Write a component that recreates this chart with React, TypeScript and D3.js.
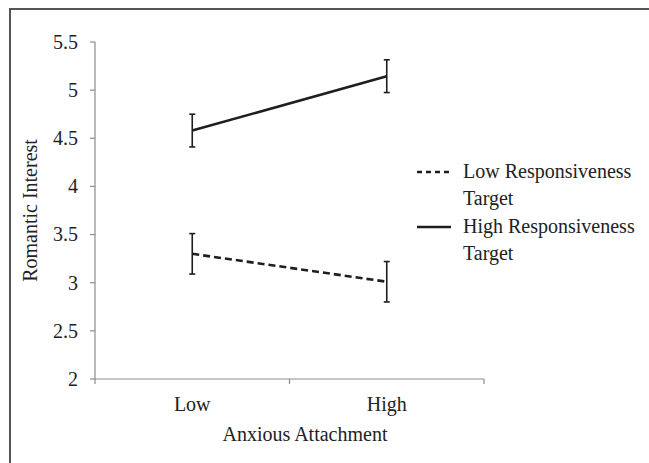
import React from "react";
import * as d3 from "d3";

const categories = ["Low", "High"];
const yTicks = [2, 2.5, 3, 3.5, 4, 4.5, 5, 5.5];
const yTickLabels = ["2", "2.5", "3", "3.5", "4", "4.5", "5", "5.5"];
const lowRespValues = [3.3, 3.01];
const lowRespErrors = [0.21, 0.21];
const highRespValues = [4.58, 5.145];
const highRespErrors = [0.17, 0.17];
const seriesNames = ["Low Responsiveness", "High Responsiveness"];
const seriesSub = ["Target", "Target"];
const xTitle = "Anxious Attachment";
const yTitle = "Romantic Interest";

const W = 649;
const H = 463;
const FONT = "Liberation Serif, Times New Roman, Times, Nimbus Roman, DejaVu Serif, serif";

export default function App() {
  const x = d3.scaleBand<string>().domain(categories).range([95, 484]);
  const y = d3.scaleLinear().domain([2, 5.5]).range([379, 42]);
  const cx = (c: string) => (x(c) as number) + x.bandwidth() / 2;
  const line = d3
    .line<number>()
    .x((_, i) => cx(categories[i]))
    .y((d) => y(d));

  const series = [
    { vals: lowRespValues, errs: lowRespErrors, dash: "7,4" },
    { vals: highRespValues, errs: highRespErrors, dash: undefined as string | undefined },
  ];
  const axisColor = "#8c8c8c";
  const ink = "#1e1e1e";
  const fs = 20;

  return (
    <svg
      width={W}
      height={H}
      style={{ position: "absolute", left: 0, top: 0, background: "#fff", fontFamily: FONT }}
    >
      <rect x={0} y={0} width={W} height={H} fill="#fff" />
      <path d={`M10,${H + 5} V9 H${W + 5}`} fill="none" stroke="#555" strokeWidth={2} />

      <line x1={95} x2={95} y1={y(5.5)} y2={y(2)} stroke={axisColor} strokeWidth={1.2} />
      {yTicks.map((t, i) => (
        <g key={t}>
          <line x1={90} x2={95} y1={y(t)} y2={y(t)} stroke={axisColor} strokeWidth={1.2} />
          <text x={78} y={y(t)} dy="0.34em" textAnchor="end" fontSize={fs} fill="#222">
            {yTickLabels[i]}
          </text>
        </g>
      ))}
      <line x1={95} x2={484} y1={y(2)} y2={y(2)} stroke={axisColor} strokeWidth={1.2} />
      {[95, ...categories.map((c) => (x(c) as number) + x.bandwidth())].map((px, i) => (
        <line key={i} x1={px} x2={px} y1={y(2)} y2={y(2) + 5} stroke={axisColor} strokeWidth={1.2} />
      ))}
      {categories.map((c) => (
        <text key={c} x={cx(c)} y={411} textAnchor="middle" fontSize={fs} fill="#222">
          {c}
        </text>
      ))}
      <text x={305} y={441} textAnchor="middle" fontSize={fs} fill="#222">
        {xTitle}
      </text>
      <text
        transform={`translate(37,${(y(2) + y(5.5)) / 2}) rotate(-90)`}
        textAnchor="middle"
        fontSize={fs}
        fill="#222"
      >
        {yTitle}
      </text>

      {series.map((s, si) => (
        <g key={si}>
          <path
            d={line(s.vals) as string}
            fill="none"
            stroke={ink}
            strokeWidth={2.6}
            strokeDasharray={s.dash}
          />
          {s.vals.map((v, i) => {
            const px = cx(categories[i]);
            const top = y(v + s.errs[i]);
            const bot = y(v - s.errs[i]);
            return (
              <g key={i} stroke={ink} strokeWidth={1.6}>
                <line x1={px} x2={px} y1={top} y2={bot} />
                <line x1={px - 3} x2={px + 3} y1={top} y2={top} />
                <line x1={px - 3} x2={px + 3} y1={bot} y2={bot} />
              </g>
            );
          })}
        </g>
      ))}

      {series.map((s, si) => {
        const ly = si === 0 ? 172 : 227;
        return (
          <g key={si}>
            <line
              x1={417}
              x2={451}
              y1={ly}
              y2={ly}
              stroke={ink}
              strokeWidth={2.6}
              strokeDasharray={s.dash ? "5,4" : undefined}
            />
            <text x={463} y={ly + 6} fontSize={fs} fill="#222">
              {seriesNames[si]}
            </text>
            <text x={463} y={ly + 33} fontSize={fs} fill="#222">
              {seriesSub[si]}
            </text>
          </g>
        );
      })}
    </svg>
  );
}
